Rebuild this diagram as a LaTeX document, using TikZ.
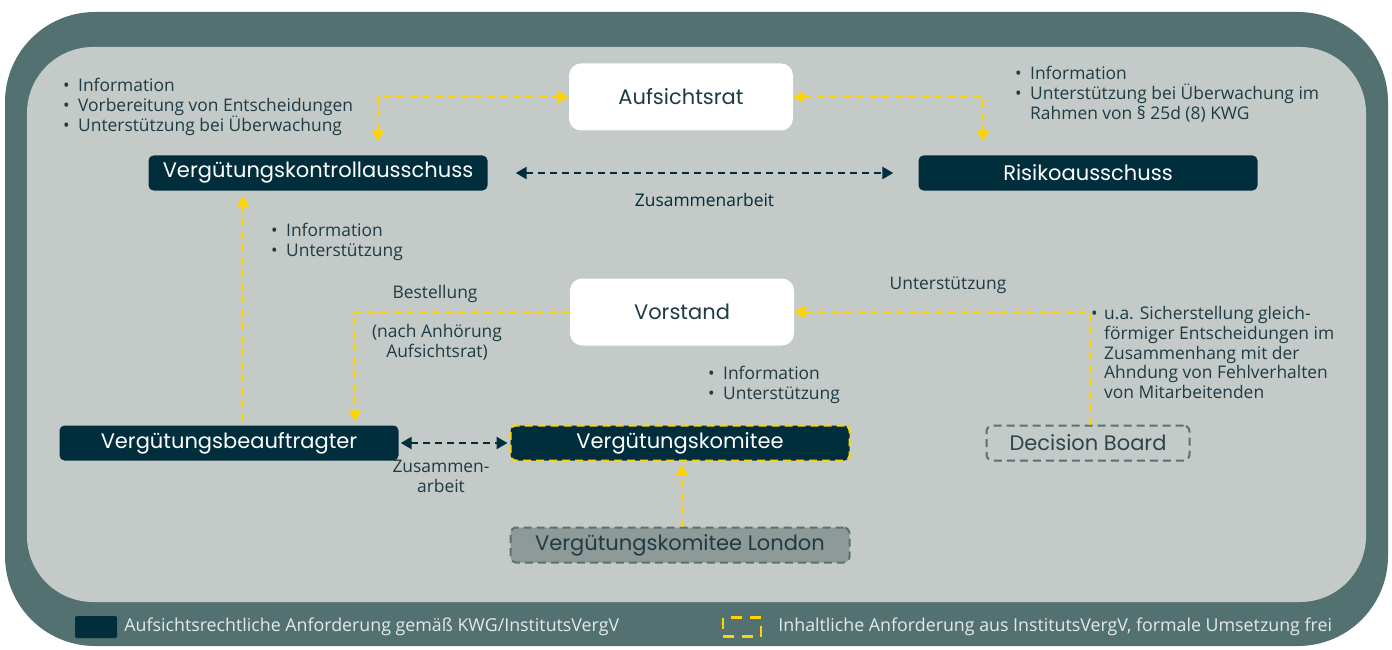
\documentclass[tikz,border=0pt]{standalone}
\usepackage{fontspec}
\setmainfont{Open Sans}
\newfontfamily\titlefont{Poppins}
\usetikzlibrary{positioning,arrows.meta}

\definecolor{outerband}{HTML}{537170}
\definecolor{innerarea}{HTML}{C4CAC7}
\definecolor{darkbox}{HTML}{012E3D}
\definecolor{signal}{HTML}{FFD400}
\definecolor{labeltext}{HTML}{1F3B45}
\definecolor{londonfill}{HTML}{8E9A98}
\definecolor{dashgray}{HTML}{5A7073}
\definecolor{legendtext}{HTML}{E4EAEA}

\newcommand{\bul}{\makebox[15pt][l]{\textbullet}}

\begin{document}
\begin{tikzpicture}[
            x=1pt,y=-1pt,
            font=\fontsize{17.4}{19.8}\selectfont,text=labeltext,
            >={Triangle[length=11pt,width=12pt]},
            darknode/.style={rectangle, rounded corners=5pt, fill=darkbox, text=white, minimum width=339pt, minimum height=35pt, font=\titlefont\fontsize{21}{24}\selectfont},
            whitenode/.style={rectangle, rounded corners=12pt, fill=white, minimum width=224pt, minimum height=67pt, font=\titlefont\fontsize{21}{24}\selectfont},
            opennode/.style={rectangle, rounded corners=6pt, draw=dashgray, line width=2pt, dash pattern=on 8pt off 5pt, minimum height=35pt, text=labeltext!95!white, font=\titlefont\fontsize{21}{24}\selectfont},
            bullets/.style={align=left, inner sep=0pt, anchor=north west},
            legend/.style={inner sep=0pt, text=legendtext, font=\fontsize{17.8}{20}\selectfont},
            yline/.style={signal, line width=2.5pt, dash pattern=on 8pt off 5pt},
            dline/.style={darkbox, line width=2.5pt, dash pattern=on 7pt off 5pt},
            ]
            \useasboundingbox (0,0) rectangle (1392,650);
            % Background
            \fill[outerband, rounded corners=90pt] (5,12) rectangle (1388,646);
            \fill[innerarea, rounded corners=66pt] (27,47) rectangle (1366,602);

            % Nodes
            \node[whitenode] (aufsichtsrat) at (681,97) {Aufsichtsrat};
            \node[whitenode] (vorstand) at (682,312) {Vorstand};
            \node[darknode] (vka) at (318,173) {Vergütungskontrollausschuss};
            \node[darknode] (risiko) at (1088,173) {Risikoausschuss};
            \node[darknode] (beauftragter) at (229,443) {Vergütungsbeauftragter};
            \node[darknode, draw=signal, line width=2pt, dash pattern=on 8pt off 5pt] (komitee) at (680,443) {Vergütungskomitee};
            \node[opennode, minimum width=203pt] (board) at (1088,443) {Decision Board};
            \node[opennode, fill=londonfill, minimum width=339pt, text=labeltext, below=65pt of komitee] (london) {Vergütungskomitee London};

            % Texts
            \node[bullets] (vkatext) at (63,78) {\bul Information\\\bul Vorbereitung von Entscheidungen\\\bul Unterstützung bei Überwachung};
            \node[bullets] (risikotext) at (1015,66) {\bul Information\\\bul Unterstützung bei Überwachung im\\\hspace*{15pt}Rahmen von § 25d (8) KWG};
            \node[bullets] (beauftragtertext) at (271,223) {\bul Information\\\bul Unterstützung};
            \node[bullets] (komiteetext) at (708,366) {\bul Information\\\bul Unterstützung};
            \node[bullets] (boardtext) at (1091,306) {\makebox[13pt][l]{\textbullet}u.a. Sicherstellung gleich-\\\hspace*{13pt}förmiger Entscheidungen im\\\hspace*{13pt}Zusammenhang mit der\\\hspace*{13pt}Ahndung von Fehlverhalten\\\hspace*{13pt}von Mitarbeitenden};
            \node (bestellung) at (435,294) {Bestellung};
            \node[align=center] (anhoerung) at (437,342) {(nach Anhörung\\Aufsichtsrat)};
            \node (unterstuetzung) at (948,285) {Unterstützung};
            \node[align=center] (zusammen) at (441,476) {Zusammen-\\arbeit};

            % Lines
            \draw[yline, <->] ([xshift=60pt,yshift=14pt]vka.north) |- (aufsichtsrat.west);
            \draw[yline, <->] (aufsichtsrat.east) -| ([xshift=-105pt,yshift=14pt]risiko.north);
            \draw[dline, <->] ([xshift=28pt]vka.east) -- node [midway,below=16pt] (zusammenarbeit) {Zusammenarbeit} ([xshift=-25pt]risiko.west);
            \draw[yline, ->] ([xshift=14pt,yshift=4pt]beauftragter.north) -- ([xshift=-75pt,yshift=-5pt]vka.south);
            \draw[yline, ->] (vorstand.west) -| ([xshift=126pt,yshift=4pt]beauftragter.north);
            \draw[yline, ->] ([xshift=2pt]board.north) |- (vorstand.east);
            \draw[dline, <->] ([xshift=2pt]beauftragter.east) -- ([xshift=-2pt]komitee.west);
            \draw[yline, ->] ([xshift=2pt]london.north) -- ([xshift=2pt,yshift=-3pt]komitee.south);

            % Legend
            \node[rectangle, fill=darkbox, rounded corners=2pt, minimum width=42pt, minimum height=22pt, inner sep=0pt] (legdark) at (96,627) {};
            \node[legend, right=7pt of legdark] (legdarktext) {Aufsichtsrechtliche Anforderung gemäß KWG/InstitutsVergV};
            \node[rectangle, draw=signal, line width=2.5pt, dash pattern=on 11pt off 8pt, minimum width=38pt, minimum height=19pt, inner sep=0pt] (legyellow) at (742,627) {};
            \node[legend, right=16pt of legyellow] (legyellowtext) {Inhaltliche Anforderung aus InstitutsVergV, formale Umsetzung frei};
        \end{tikzpicture}
\end{document}
